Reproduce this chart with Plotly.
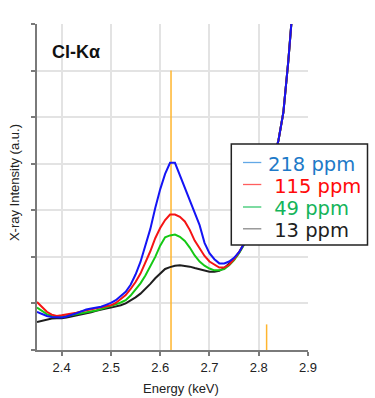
import plotly.graph_objects as go

# ---- data ----
energy_kev = [2.35, 2.36, 2.37, 2.38, 2.39, 2.40, 2.41, 2.42, 2.43, 2.44,
              2.45, 2.46, 2.47, 2.48, 2.49, 2.50, 2.51, 2.52, 2.53, 2.54,
              2.55, 2.56, 2.57, 2.58, 2.59, 2.60, 2.61, 2.62, 2.63, 2.64,
              2.65, 2.66, 2.67, 2.68, 2.69, 2.70, 2.71, 2.72, 2.73, 2.74,
              2.75, 2.76, 2.77, 2.78, 2.79, 2.80, 2.81, 2.82, 2.83, 2.84,
              2.85, 2.86, 2.87]

ppm_218 = [0.82, 0.77, 0.73, 0.71, 0.70, 0.70, 0.72, 0.75, 0.79, 0.83,
           0.87, 0.89, 0.91, 0.93, 0.97, 1.01, 1.07, 1.15, 1.25, 1.40,
           1.62, 1.89, 2.25, 2.60, 3.05, 3.45, 3.78, 4.02, 4.02, 3.75,
           3.50, 3.25, 2.98, 2.68, 2.30, 2.08, 1.95, 1.86, 1.86, 1.90,
           1.98, 2.10, 2.28, 2.55, 2.85, 3.15, 3.45, 3.80, 4.10, 4.50,
           5.10, 6.20, 7.50]

ppm_115 = [1.03, 0.92, 0.82, 0.76, 0.73, 0.745, 0.76, 0.78, 0.80, 0.83,
           0.85, 0.87, 0.89, 0.91, 0.93, 0.96, 1.01, 1.09, 1.18, 1.31,
           1.46, 1.64, 1.87, 2.12, 2.40, 2.62, 2.79, 2.91, 2.91, 2.86,
           2.76, 2.58, 2.35, 2.17, 2.02, 1.90, 1.83, 1.77, 1.77, 1.83,
           1.95, 2.10, 2.28, 2.55, 2.85, 3.15, 3.45, 3.80, 4.10, 4.50,
           5.10, 6.20, 7.50]

ppm_49 = [0.91, 0.84, 0.77, 0.73, 0.72, 0.72, 0.73, 0.75, 0.77, 0.78,
          0.80, 0.82, 0.85, 0.88, 0.91, 0.94, 0.98, 1.02, 1.07, 1.17,
          1.29, 1.43, 1.60, 1.80, 2.00, 2.24, 2.42, 2.46, 2.48, 2.43,
          2.34, 2.20, 2.03, 1.90, 1.81, 1.75, 1.71, 1.71, 1.74, 1.82,
          1.93, 2.08, 2.26, 2.55, 2.85, 3.15, 3.45, 3.80, 4.10, 4.50,
          5.10, 6.20, 7.50]

ppm_13 = [0.60, 0.63, 0.66, 0.675, 0.68, 0.68, 0.70, 0.72, 0.745, 0.77,
          0.79, 0.81, 0.84, 0.87, 0.89, 0.91, 0.93, 0.96, 1.00, 1.06,
          1.13, 1.21, 1.31, 1.42, 1.54, 1.65, 1.74, 1.78, 1.81, 1.82,
          1.81, 1.79, 1.76, 1.73, 1.70, 1.68, 1.68, 1.70, 1.76, 1.85,
          1.95, 2.09, 2.27, 2.55, 2.85, 3.15, 3.45, 3.80, 4.10, 4.50,
          5.10, 6.20, 7.50]

series_names = ["218 ppm", "115 ppm", "49 ppm", "13 ppm"]
series_values = [ppm_218, ppm_115, ppm_49, ppm_13]
line_colors = ["#1414f5", "#f51414", "#14c814", "#1e1e1e"]
legend_line_colors = ["#62a8e6", "#ff5e5e", "#38c870", "#8a8a8a"]
legend_text_colors = ["#1e7ac8", "#ff0a0a", "#14b45a", "#1e1e1e"]
legend_prefix = ["", "\u00a0", "\u00a0", "\u00a0"]

ref_line_energy = [2.622, 2.816]   # Cl Kα, Cl Kβ
ref_line_height = [6.0, 0.55]

x_ticks = [2.4, 2.5, 2.6, 2.7, 2.8, 2.9]
y_ticks = [0, 1, 2, 3, 4, 5, 6, 7]

fig = go.Figure()

# reference emission lines (behind curves)
for e, h in zip(ref_line_energy, ref_line_height):
    fig.add_trace(go.Scatter(x=[e, e], y=[0, h], mode="lines",
                             line=dict(color="#ffb52e", width=1.5),
                             showlegend=False, hoverinfo="skip"))

# spectra, lowest concentration first so the blue one is on top
for name, vals, col in reversed(list(zip(series_names, series_values, line_colors))):
    fig.add_trace(go.Scatter(x=energy_kev, y=vals, mode="lines",
                             line=dict(color=col, width=2),
                             showlegend=False, name=name))

axis_common = dict(showgrid=True, gridcolor="#e3e3e3", gridwidth=1.5,
                   showline=True, linecolor="#7a7a7a", linewidth=2,
                   ticks="outside", ticklen=4, tickwidth=1.5, tickcolor="#7a7a7a",
                   zeroline=False, automargin=False)

fig.update_xaxes(range=[2.35, 2.9], tickvals=x_ticks,
                 ticktext=[f"{v:.1f}" for v in x_ticks],
                 tickfont=dict(family="Liberation Sans, Arial", size=13, color="#222"),
                 **axis_common)
fig.update_yaxes(range=[0, 7], tickvals=y_ticks, showticklabels=False,
                 **axis_common)

# ---- hand-drawn legend box (paper coordinates) ----
plot_l, plot_r, plot_t, plot_b = 37, 308, 24, 350
def px_x(p):
    return (p - plot_l) / (plot_r - plot_l)
def px_y(p):
    return (plot_b - p) / (plot_b - plot_t)

shapes = [dict(type="rect", xref="paper", yref="paper",
               x0=px_x(231.3), x1=px_x(367.5), y0=px_y(245), y1=px_y(144),
               fillcolor="white", line=dict(color="#222", width=1.5), layer="above")]
annotations = []
row_px = [162.5, 184.5, 207.0, 228.8]
for name, lc, tc, pre, ry in zip(series_names, legend_line_colors, legend_text_colors,
                                  legend_prefix, row_px):
    shapes.append(dict(type="line", xref="paper", yref="paper",
                       x0=px_x(243), x1=px_x(261.3), y0=px_y(ry), y1=px_y(ry),
                       line=dict(color=lc, width=1.3), layer="above"))
    annotations.append(dict(text=pre + name, xref="paper", yref="paper",
                            x=px_x(265.5), y=px_y(ry + 1.5), xanchor="left", yanchor="middle",
                            showarrow=False,
                            font=dict(family="DejaVu Sans, Verdana", size=19.5, color=tc)))

annotations += [
    dict(text="<b>Cl-Kα</b>", xref="paper", yref="paper", x=0.048, y=0.914,
         xanchor="left", yanchor="middle", showarrow=False,
         font=dict(family="Liberation Sans, Arial", size=18, color="#111")),
    dict(text="Energy (keV)", xref="paper", yref="paper", x=0.531, y=-0.1166,
         xanchor="center", yanchor="middle", showarrow=False,
         font=dict(family="Liberation Sans, Arial", size=13, color="#222")),
    dict(text="X-ray Intensity (a.u.)", xref="paper", yref="paper", x=-0.085, y=0.515,
         xanchor="center", yanchor="middle", showarrow=False, textangle=-90,
         font=dict(family="Liberation Sans, Arial", size=13, color="#222")),
]

fig.update_layout(
    width=375, height=398,
    margin=dict(l=plot_l, r=375 - plot_r, t=plot_t, b=398 - plot_b, autoexpand=False),
    paper_bgcolor="white", plot_bgcolor="white",
    showlegend=False,
    shapes=shapes,
    annotations=annotations,
)

fig.write_html("out.html", config={"displayModeBar": False},
               post_script="document.body.style.margin='0';document.body.style.overflow='hidden';")
